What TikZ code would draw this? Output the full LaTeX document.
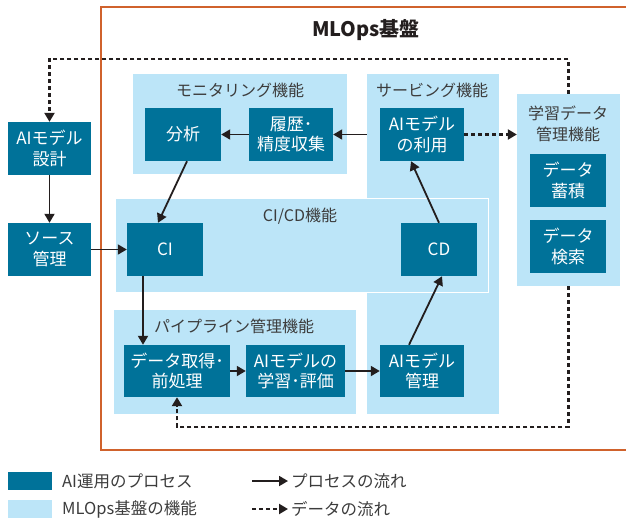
\documentclass[tikz,border=0pt]{standalone}
\usepackage{fontspec}
\setmainfont{Noto Sans CJK JP}
\newfontfamily\cjk{Noto Sans CJK JP}
\usetikzlibrary{arrows.meta}
\definecolor{darkbox}{RGB}{0,114,153}
\definecolor{lightbox}{RGB}{188,229,248}
\definecolor{frameor}{RGB}{208,98,44}
\definecolor{txtgray}{RGB}{60,60,60}
\definecolor{linek}{RGB}{35,30,30}
\tikzset{
  proc/.style={fill=darkbox, text=white, inner sep=0pt, align=center,
    font=\cjk\fontsize{17}{20.5}\selectfont},
  area/.style={fill=lightbox, inner sep=0pt},
  areatitle/.style={text=txtgray, inner sep=0pt, align=center,
    font=\cjk\fontsize{16}{21}\selectfont},
  procflow/.style={draw=linek, line width=1.8pt, -{Triangle[length=9pt,width=10pt]}},
  dataflow/.style={draw=linek, line width=2.2pt, dash pattern=on 4pt off 3pt,
    -{Triangle[length=9pt,width=10pt]}},
  legtext/.style={text=txtgray, anchor=west, inner sep=0pt,
    font=\cjk\fontsize{16.5}{20}\selectfont},
}
\begin{document}
\begin{tikzpicture}[x=1pt,y=-1pt]
\useasboundingbox (0,0) rectangle (626,520);
\clip (0,0) rectangle (626,520);
% MLOps frame
\draw[frameor, line width=2pt] (101,7) rectangle (660,450);
\node[inner sep=0pt, text=linek, font=\cjk\bfseries\fontsize{20}{22}\selectfont] (title) at (366,30) {MLOps基盤};
% areas
\node[area, minimum width=214pt, minimum height=100pt] (mon) at (240,124) {};
\node[area, minimum width=132pt, minimum height=340pt] (serv) at (433,244) {};
\node[area, minimum width=103pt, minimum height=192pt] (ldata) at (568.5,190) {};
\node[area, draw=white, line width=1pt, minimum width=373pt, minimum height=94pt] (cicd) at (301.5,245) {};
\node[area, minimum width=242pt, minimum height=104pt] (pipe) at (235,362) {};
% area titles
\node[areatitle] (tmon) at (240,90) {モニタリング機能};
\node[areatitle] (tserv) at (432,90) {サービング機能};
\node[areatitle] (tldata) at (568,124) {学習データ\\管理機能};
\node[areatitle] (tcicd) at (300,216) {CI/CD機能};
\node[areatitle] (tpipe) at (234,326) {パイプライン管理機能};
% process boxes
\node[proc, minimum width=83pt, minimum height=53pt] (design) at (49.5,148.5) {AIモデル\\設計};
\node[proc, minimum width=83pt, minimum height=53pt] (source) at (49.5,249.5) {ソース\\管理};
\node[proc, minimum width=76pt, minimum height=53pt] (bunseki) at (183,134.5) {分析};
\node[proc, minimum width=84pt, minimum height=53pt] (rireki) at (291,134.5) {履歴･\\精度収集};
\node[proc, minimum width=84pt, minimum height=53pt] (usage) at (422,134.5) {AIモデル\\の利用};
\node[proc, minimum width=76pt, minimum height=53pt] (chiku) at (568,180.5) {データ\\蓄積};
\node[proc, minimum width=76pt, minimum height=53pt] (kensaku) at (568,246.5) {データ\\検索};
\node[proc, minimum width=76pt, minimum height=53pt] (ci) at (165,249.5) {CI};
\node[proc, minimum width=76pt, minimum height=53pt] (cd) at (439,249.5) {CD};
\node[proc, minimum width=106pt, minimum height=52pt] (prep) at (177,371) {データ取得･\\前処理};
\node[proc, minimum width=99pt, minimum height=52pt] (train) at (295.5,371) {AIモデルの\\学習･評価};
\node[proc, minimum width=84pt, minimum height=52pt] (manage) at (422,371) {AIモデル\\管理};
% process flows
\draw[procflow] (design) -- (source);
\draw[procflow] (source) -- (ci);
\draw[procflow] ([xshift=4pt]bunseki.south) -- ([xshift=-7pt]ci.north);
\draw[procflow] ([xshift=-22pt]ci.south) -- ([xshift=-22pt]ci.south |- prep.north);
\draw[procflow] (prep) -- (train);
\draw[procflow] (train) -- (manage);
\draw[procflow] ([xshift=-13pt]manage.north) -- ([xshift=3pt]cd.south);
\draw[procflow] (cd.north) -- ([xshift=-11pt]usage.south);
\draw[procflow] (serv.west |- usage) -- (rireki.east);
\draw[procflow] (rireki) -- (bunseki);
% data flows
\coordinate (looptop) at (0,59);
\coordinate (loopbot) at (0,427);
\draw[dataflow] (usage.east) -- (usage.east -| ldata.west);
\draw[dataflow] (ldata.north) -- (ldata.north |- looptop) -- (design.north |- looptop) -- (design.north);
\draw[dataflow] (ldata.south) -- (ldata.south |- loopbot) -- (prep.south |- loopbot) -- (prep.south);
% legend
\node[fill=darkbox, minimum width=44pt, minimum height=18pt, inner sep=0pt] (legdark) at (30,481) {};
\node[fill=lightbox, minimum width=44pt, minimum height=18pt, inner sep=0pt] (leglight) at (30,509) {};
\node[legtext] (ldtext) at (62,481) {AI運用のプロセス};
\node[legtext] (lltext) at (62,509) {MLOps基盤の機能};
\coordinate (lpa) at (252,481);
\coordinate (lpb) at (288,481);
\coordinate (lda) at (252,509);
\coordinate (ldb) at (288,509);
\draw[procflow] (lpa) -- (lpb);
\draw[dataflow] (lda) -- (ldb);
\node[legtext] (lptext) at (291,481) {プロセスの流れ};
\node[legtext] (ldttext) at (291,509) {データの流れ};
\end{tikzpicture}
\end{document}
